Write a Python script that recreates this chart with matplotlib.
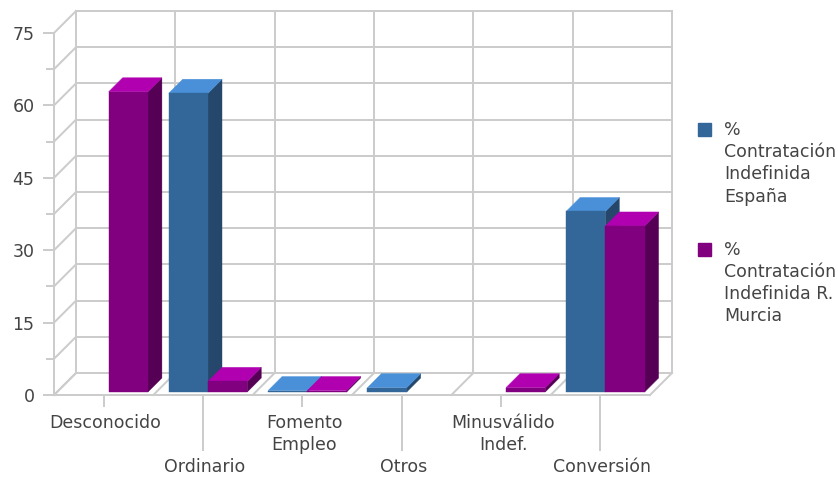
import numpy as np
import matplotlib
matplotlib.use("Agg")
import matplotlib.pyplot as plt
from matplotlib.patches import Patch, Polygon
from matplotlib.transforms import Affine2D

categories = ["Desconocido", "Ordinario", "Fomento\nEmpleo", "Otros", "Minusválido\nIndef.", "Conversión"]
spain = [None, 61.9, 0.3, 0.9, None, 37.4]
murcia = [62.2, 2.2, 0.3, None, 0.9, 34.4]
series_names = ["%\nContratación\nIndefinida\nEspaña", "%\nContratación\nIndefinida R.\nMurcia"]
y_major = [0, 15, 30, 45, 60, 75]
y_minor = [7.5, 22.5, 37.5, 52.5, 67.5]

W, H = 838, 478
GRID = "#cccccc"
TEXT = "#444444"
BLUE = ("#336699", "#4a90d9", "#24476b")
PURPLE = ("#800080", "#b000b0", "#550055")
LW = 1.44
FS = 12.5

fig = plt.figure(figsize=(W / 100, H / 100), dpi=100)
ax = fig.add_axes([54 / W, (H - 395) / H, 596 / W, 362 / H])
ax.set_xlim(-0.5, 5.5)
ax.set_ylim(0, 75)
for s in ax.spines.values():
    s.set_visible(False)
ax.patch.set_alpha(0)


def shifted(dx, dy):
    # pixel offset (dy positive = up) on top of the data scale
    return ax.transData + Affine2D().translate(dx, dy)


wall = shifted(22, 22)
kw = dict(color=GRID, lw=LW, clip_on=False, zorder=1, solid_capstyle="projecting")

for v in y_major + y_minor:
    ax.plot([-0.5, 5.5], [v, v], transform=wall, **kw)
    p0 = ax.transData.transform((-0.5, v))
    ax.plot([p0[0], p0[0] + 22], [p0[1], p0[1] + 22], transform=None, **kw)
for e in np.arange(-0.5, 5.6, 1):
    ax.plot([e, e], [0, 75], transform=wall, **kw)
    p0 = ax.transData.transform((e, 0))
    ax.plot([p0[0], p0[0] + 22], [p0[1], p0[1] + 22], transform=None, **kw)
ax.plot([-0.5, 5.5], [0, 0], **kw)
ax.plot([-0.5, -0.5], [0, 75], **kw)


def box(x0, x1, v, cols, z):
    f0, f1 = shifted(5, 3), shifted(19, 17)
    d = ax.transData.inverted()

    def pts(tr, xy):
        return d.transform(tr.transform(xy))

    a, b = pts(f0, (x0, 0)), pts(f0, (x1, 0))
    c, e = pts(f0, (x1, v)), pts(f0, (x0, v))
    g, h = pts(f1, (x1, v)), pts(f1, (x0, v))
    i = pts(f1, (x1, 0))
    for poly, col in (([b, i, g, c], cols[2]), ([e, c, g, h], cols[1]), ([a, b, c, e], cols[0])):
        ax.add_patch(Polygon(poly, closed=True, facecolor=col, edgecolor=col, lw=0.3,
                             clip_on=False, zorder=z))


bw = 0.395
z = 3
for i in range(len(categories)):
    if spain[i] is not None:
        box(i - bw, i, spain[i], BLUE, z)
        z += 1
    if murcia[i] is not None:
        box(i, i + bw, murcia[i], PURPLE, z)
        z += 1

# y ticks
ax.set_yticks(y_major)
ax.set_yticks(y_minor, minor=True)
ax.set_yticklabels([str(v) for v in y_major], fontsize=FS, color=TEXT)
ax.tick_params(axis="y", which="major", length=8, width=LW, color=GRID, pad=6)
ax.tick_params(axis="y", which="minor", length=5.5, width=LW, color=GRID)

# x ticks: staggered rows use the major and the minor tick sets
ax.set_xticks(range(0, 6, 2), categories[0::2])
ax.set_xticks(range(1, 6, 2), categories[1::2], minor=True)
ax.tick_params(axis="x", which="major", length=8.6, width=LW, color=GRID, pad=5)
ax.tick_params(axis="x", which="minor", length=40, width=LW, color=GRID, pad=5)
for lab in ax.get_xticklabels() + ax.get_xticklabels(minor=True):
    lab.set_fontsize(FS)
    lab.set_color(TEXT)
    lab.set_linespacing(1.3)
    lab.set_transform(lab.get_transform() + Affine2D().translate(2, 0))

leg = fig.legend(
    handles=[Patch(color=BLUE[0], label=series_names[0]), Patch(color=PURPLE[0], label=series_names[1])],
    loc="upper left", bbox_to_anchor=(698 / W, 1 - 121 / H), bbox_transform=fig.transFigure,
    frameon=False, fontsize=FS, handlelength=0.75, handleheight=0.75, handletextpad=0.75,
    labelspacing=2.03, borderpad=0, borderaxespad=0, labelcolor=TEXT,
)
for col in leg._legend_handle_box.get_children():
    for row in col.get_children():
        row.align = "top"
for t in leg.get_texts():
    t.set_linespacing(1.3)
for h in leg.legend_handles:
    h.set_y(h.get_y() - 1.4)

fig.savefig("out.png", dpi=100)
